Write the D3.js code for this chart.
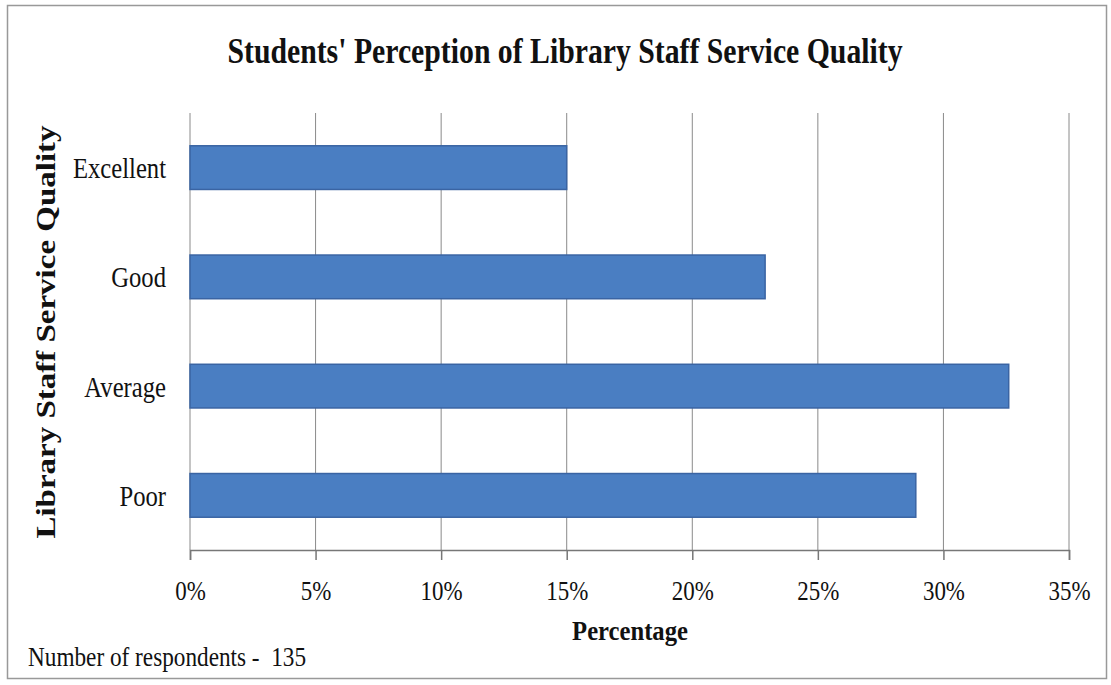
<!DOCTYPE html>
<html>
<head>
<meta charset="utf-8">
<script src="https://cdn.jsdelivr.net/npm/d3@7"></script>
<style>
  body { margin: 0; background: #fff; }
  text { font-family: "Liberation Serif", "Times New Roman", serif; fill: #111; }
</style>
</head>
<body>
<div id="chart"></div>
<script>
// data
const categories = ["Excellent", "Good", "Average", "Poor"];
const percentages = [15.0, 22.9, 32.6, 28.9];
const xTicks = [0, 5, 10, 15, 20, 25, 30, 35];

const width = 1111;
const height = 685;
const margin = {top: 113, left: 190, right: 42, bottom: 135};
// the source picture is squeezed a little horizontally
const squeeze = 0.85;

const svg = d3.select("#chart")
    .append("svg")
    .attr("width", width)
    .attr("height", height);

// outer frame
svg.append("rect")
    .attr("x", 7.5)
    .attr("y", 5.5)
    .attr("width", 1099)
    .attr("height", 673)
    .attr("fill", "none")
    .attr("stroke", "#999")
    .attr("stroke-width", 1.5);

const xScale = d3.scaleLinear()
    .domain([0, 35])
    .range([margin.left, width - margin.right]);

const yScale = d3.scaleBand()
    .domain(categories)
    .range([margin.top, height - margin.bottom])
    .paddingInner(0.6)
    .paddingOuter(0.3);

// helper for squeezed text
function label(x, y, str, size, opts) {
    opts = opts || {};
    const t = svg.append("text")
        .attr("transform", `translate(${x},${y}) scale(${opts.sx || squeeze},1)` + (opts.rotate ? ` rotate(${opts.rotate})` : ""))
        .attr("text-anchor", opts.anchor || "start")
        .attr("font-size", size)
        .attr("font-weight", opts.bold ? "bold" : "normal")
        .text(str);
    return t;
}

// gridlines
svg.append("g")
    .selectAll("line")
    .data(xTicks)
    .enter()
    .append("line")
        .attr("x1", function(d) { return xScale(d); })
        .attr("x2", function(d) { return xScale(d); })
        .attr("y1", margin.top)
        .attr("y2", height - margin.bottom)
        .attr("stroke", "#8a8a8a")
        .attr("stroke-width", 1);

// bars
svg.append("g")
    .selectAll("rect")
    .data(categories)
    .enter()
    .append("rect")
        .attr("x", xScale(0))
        .attr("y", function(d) { return yScale(d); })
        .attr("width", function(d, i) { return xScale(percentages[i]) - xScale(0); })
        .attr("height", yScale.bandwidth())
        .attr("fill", "#4a7ec2")
        .attr("stroke", "#3a64a3")
        .attr("stroke-width", 1.5);

// x axis
const xAxis = svg.append("g")
    .attr("transform", `translate(0,${height - margin.bottom})`)
    .call(d3.axisBottom(xScale)
        .tickValues(xTicks)
        .tickFormat(function(d) { return d + "%"; })
        .tickSize(10)
        .tickPadding(21));

xAxis.select(".domain").attr("stroke", "#777").attr("stroke-width", 1.5);
xAxis.selectAll(".tick line").attr("stroke", "#777").attr("stroke-width", 1.5);
xAxis.selectAll(".tick text")
    .attr("font-size", 27)
    .attr("transform", `scale(${squeeze},1)`)
    .style("font-family", "'Liberation Serif', serif")
    .attr("fill", "#111");

// category labels
categories.forEach(function(c) {
    label(166, yScale(c) + yScale.bandwidth() / 2 + 10.5, c, 29, {anchor: "end"});
});

// title
label(565, 63, "Students' Perception of Library Staff Service Quality", 35, {anchor: "middle", bold: true});

// axis titles
label(630, 640, "Percentage", 28, {anchor: "middle", bold: true, sx: 0.88});
label(55, 332, "Library  Staff Service Quality", 33, {anchor: "middle", bold: true, rotate: -90});

label(28, 666, "Number of respondents -  135", 28, {sx: 0.83}).style("white-space", "pre");
</script>
</body>
</html>
